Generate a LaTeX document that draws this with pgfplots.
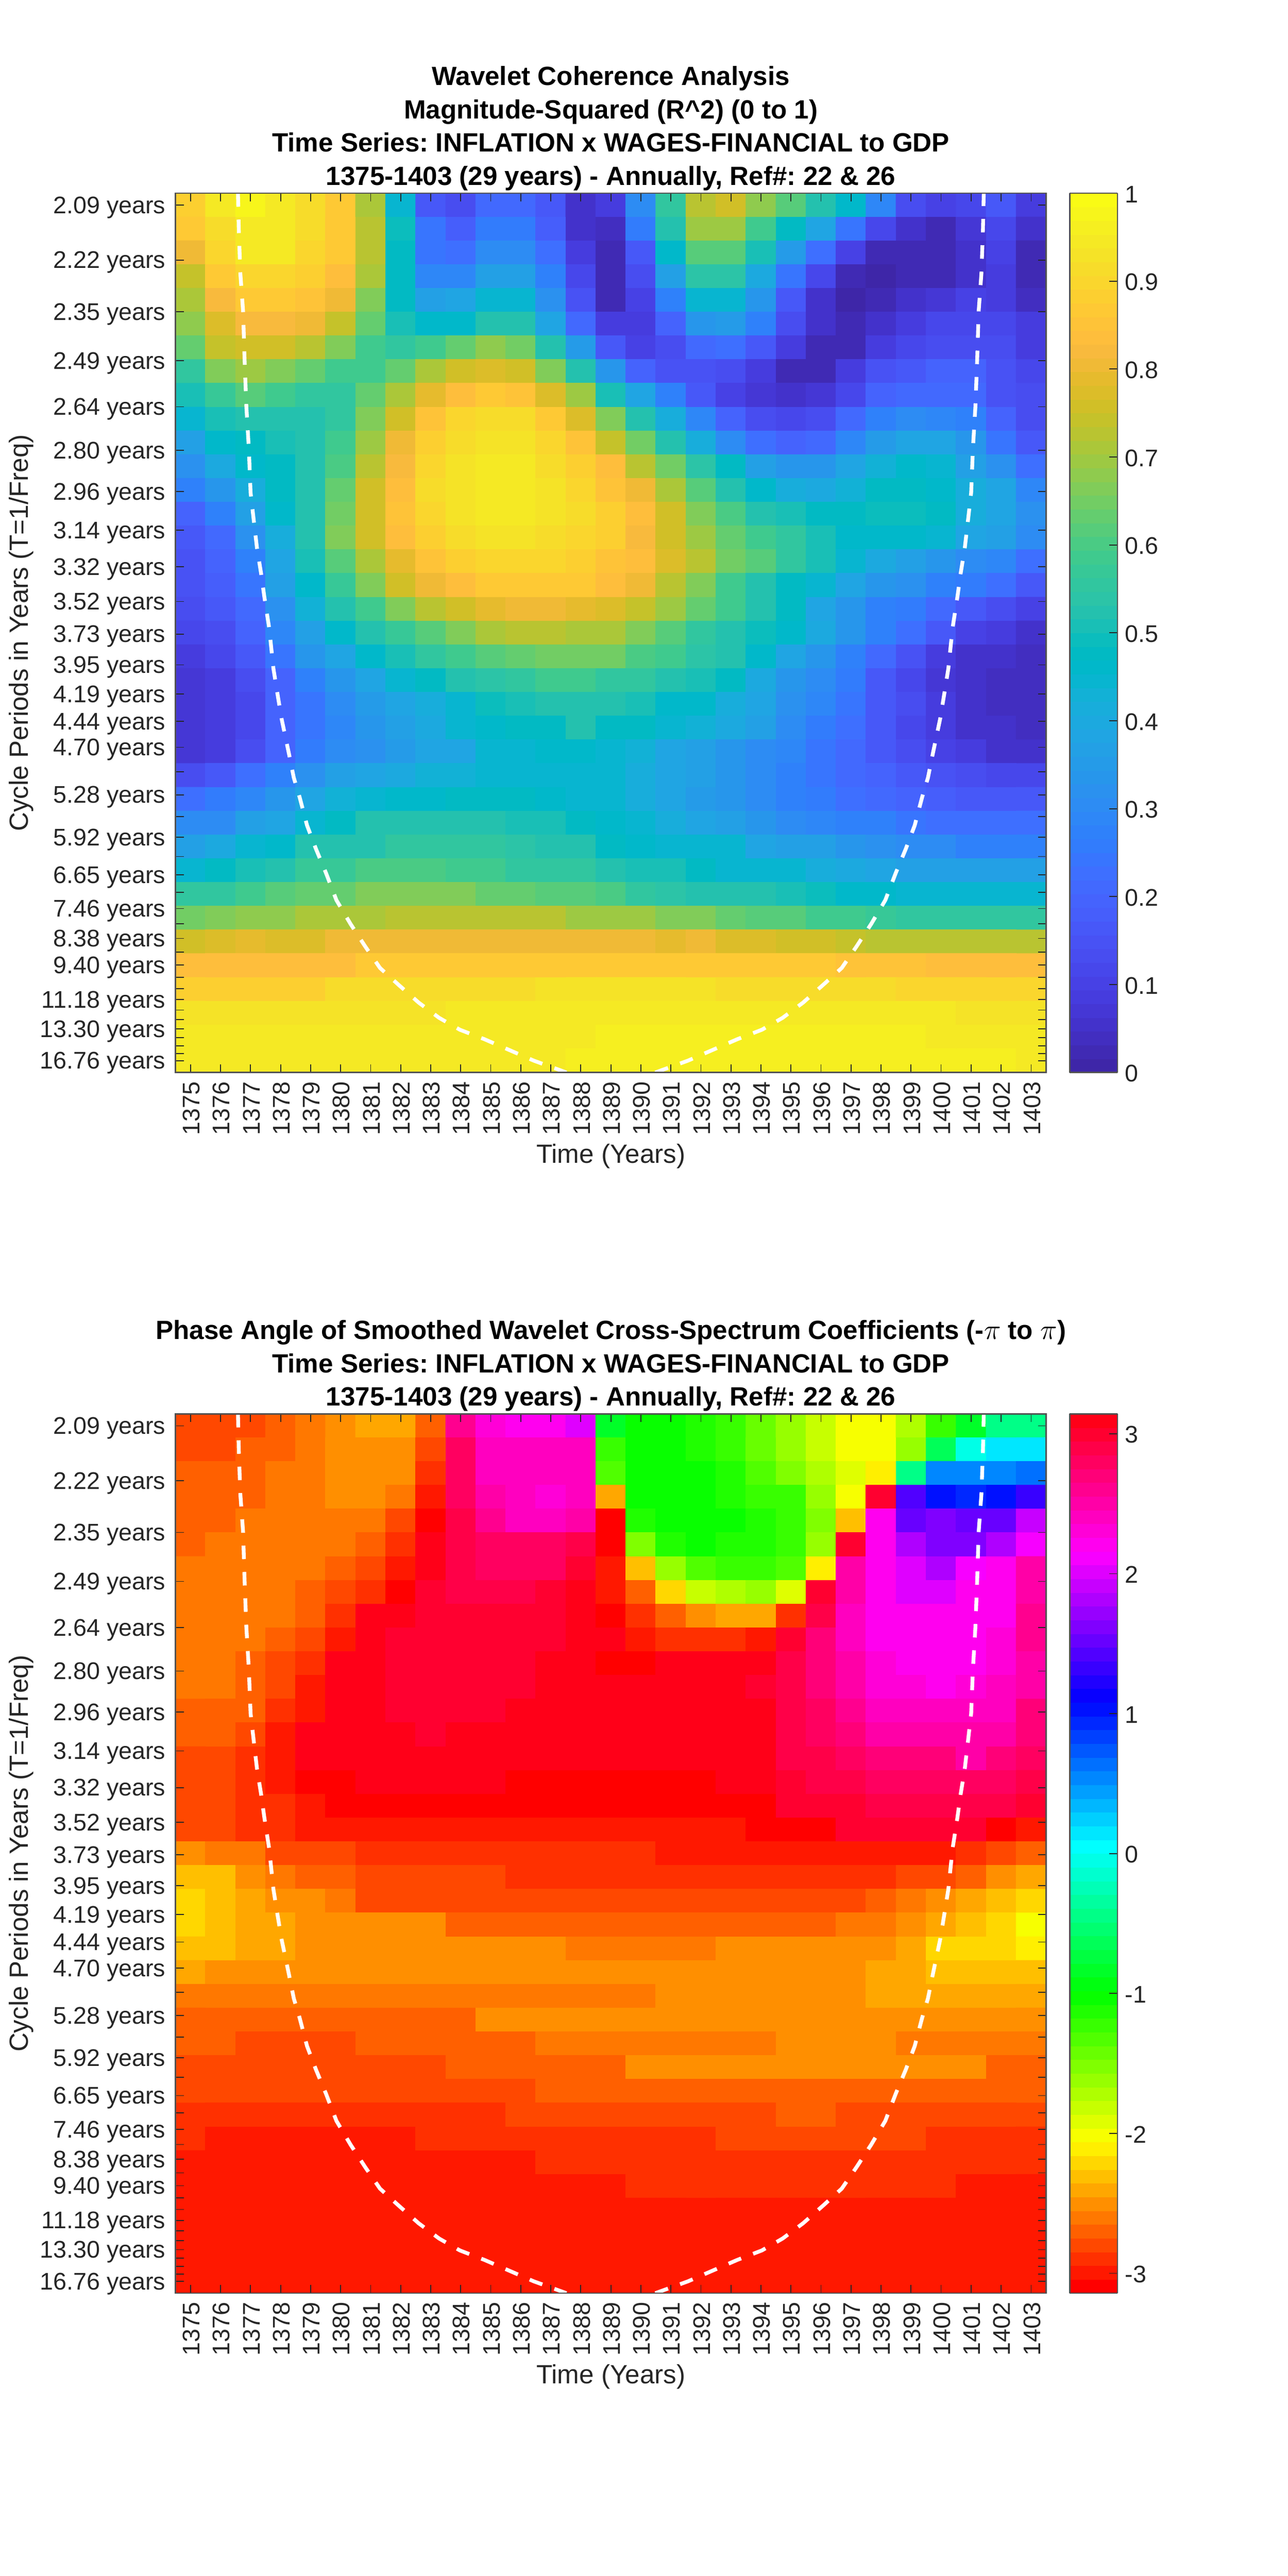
\documentclass[border=0pt]{standalone}
\usepackage{pgfplots}
\pgfplotsset{compat=1.18}
\usepackage{fontspec}
\setmainfont{Liberation Sans}
\frenchspacing
\definecolor{axc}{HTML}{262626}

\pgfplotsset{
  colormap={parula64}{
    rgb=(0.2422,0.1504,0.6603) rgb=(0.2504,0.1650,0.7076) rgb=(0.2578,0.1818,0.7511) rgb=(0.2647,0.1978,0.7952)
    rgb=(0.2706,0.2147,0.8364) rgb=(0.2751,0.2342,0.8710) rgb=(0.2783,0.2559,0.8991) rgb=(0.2803,0.2782,0.9221)
    rgb=(0.2813,0.3006,0.9414) rgb=(0.2810,0.3228,0.9579) rgb=(0.2795,0.3447,0.9717) rgb=(0.2760,0.3667,0.9829)
    rgb=(0.2699,0.3892,0.9906) rgb=(0.2602,0.4123,0.9952) rgb=(0.2440,0.4358,0.9988) rgb=(0.2206,0.4603,0.9973)
    rgb=(0.1963,0.4847,0.9892) rgb=(0.1834,0.5074,0.9798) rgb=(0.1786,0.5289,0.9682) rgb=(0.1764,0.5499,0.9520)
    rgb=(0.1687,0.5703,0.9359) rgb=(0.1540,0.5902,0.9218) rgb=(0.1460,0.6091,0.9079) rgb=(0.1380,0.6276,0.8973)
    rgb=(0.1248,0.6459,0.8883) rgb=(0.1113,0.6635,0.8763) rgb=(0.0952,0.6798,0.8598) rgb=(0.0689,0.6948,0.8394)
    rgb=(0.0297,0.7082,0.8163) rgb=(0.0036,0.7203,0.7917) rgb=(0.0067,0.7312,0.7660) rgb=(0.0433,0.7411,0.7394)
    rgb=(0.0964,0.7500,0.7120) rgb=(0.1408,0.7584,0.6842) rgb=(0.1717,0.7670,0.6554) rgb=(0.1938,0.7758,0.6251)
    rgb=(0.2161,0.7843,0.5923) rgb=(0.2470,0.7918,0.5567) rgb=(0.2906,0.7973,0.5188) rgb=(0.3406,0.8008,0.4789)
    rgb=(0.3909,0.8029,0.4354) rgb=(0.4456,0.8024,0.3909) rgb=(0.5044,0.7993,0.3480) rgb=(0.5616,0.7942,0.3045)
    rgb=(0.6174,0.7876,0.2612) rgb=(0.6720,0.7793,0.2227) rgb=(0.7242,0.7698,0.1910) rgb=(0.7738,0.7598,0.1646)
    rgb=(0.8203,0.7498,0.1535) rgb=(0.8634,0.7406,0.1596) rgb=(0.9035,0.7330,0.1774) rgb=(0.9393,0.7288,0.2100)
    rgb=(0.9728,0.7298,0.2394) rgb=(0.9956,0.7434,0.2371) rgb=(0.9970,0.7659,0.2199) rgb=(0.9952,0.7893,0.2028)
    rgb=(0.9892,0.8136,0.1885) rgb=(0.9786,0.8386,0.1766) rgb=(0.9676,0.8639,0.1643) rgb=(0.9610,0.8890,0.1537)
    rgb=(0.9597,0.9135,0.1423) rgb=(0.9628,0.9373,0.1265) rgb=(0.9691,0.9606,0.1064) rgb=(0.9769,0.9839,0.0805)
  },
  colormap={hsv64}{
    rgb=(1,0,0) rgb=(1,0.09375,0) rgb=(1,0.1875,0) rgb=(1,0.28125,0) rgb=(1,0.375,0) rgb=(1,0.46875,0) rgb=(1,0.5625,0) rgb=(1,0.65625,0)
    rgb=(1,0.75,0) rgb=(1,0.84375,0) rgb=(1,0.9375,0) rgb=(0.96875,1,0) rgb=(0.875,1,0) rgb=(0.78125,1,0) rgb=(0.6875,1,0) rgb=(0.59375,1,0)
    rgb=(0.5,1,0) rgb=(0.40625,1,0) rgb=(0.3125,1,0) rgb=(0.21875,1,0) rgb=(0.125,1,0) rgb=(0.03125,1,0) rgb=(0,1,0.0625) rgb=(0,1,0.15625)
    rgb=(0,1,0.25) rgb=(0,1,0.34375) rgb=(0,1,0.4375) rgb=(0,1,0.53125) rgb=(0,1,0.625) rgb=(0,1,0.71875) rgb=(0,1,0.8125) rgb=(0,1,0.90625)
    rgb=(0,1,1) rgb=(0,0.90625,1) rgb=(0,0.8125,1) rgb=(0,0.71875,1) rgb=(0,0.625,1) rgb=(0,0.53125,1) rgb=(0,0.4375,1) rgb=(0,0.34375,1)
    rgb=(0,0.25,1) rgb=(0,0.15625,1) rgb=(0,0.0625,1) rgb=(0.03125,0,1) rgb=(0.125,0,1) rgb=(0.21875,0,1) rgb=(0.3125,0,1) rgb=(0.40625,0,1)
    rgb=(0.5,0,1) rgb=(0.59375,0,1) rgb=(0.6875,0,1) rgb=(0.78125,0,1) rgb=(0.875,0,1) rgb=(0.96875,0,1) rgb=(1,0,0.9375) rgb=(1,0,0.84375)
    rgb=(1,0,0.75) rgb=(1,0,0.65625) rgb=(1,0,0.5625) rgb=(1,0,0.46875) rgb=(1,0,0.375) rgb=(1,0,0.28125) rgb=(1,0,0.1875) rgb=(1,0,0.09375)
  },
  wavelet/.style={
    scale only axis, width=528.3pt, height=533.5pt,
    anchor=south west,
    xmin=1374.5, xmax=1403.5, ymin=-0.5, ymax=36.5, y dir=reverse,
    axis on top, clip=true,
    axis line style={color=axc!80!white, line width=0.8pt},
    tick style={color=axc, line width=0.55pt},
    tick align=inside, major tick length=5pt,
    xtick={1375,...,1403},
    ytick={0,2.309,4.489,6.546,8.487,10.319,12.047,13.680,15.224,16.678,18.049,19.345,20.571,21.726,22.815,23.844,24.814,25.731,26.597,27.414,28.183,28.912,29.603,30.246,30.857,31.435,31.977,32.491,32.978,33.435,33.874,34.280,34.666,35.030,35.372,35.698,36},
    yticklabels={2.09 years,2.22 years,2.35 years,2.49 years,2.64 years,2.80 years,2.96 years,3.14 years,3.32 years,3.52 years,3.73 years,3.95 years,4.19 years,4.44 years,4.70 years,,5.28 years,,5.92 years,,6.65 years,,7.46 years,,8.38 years,,9.40 years,,,11.18 years,,,13.30 years,,,,16.76 years},
    tick label style={font=\fontsize{14.6}{16}\selectfont, color=axc},
    xticklabel style={rotate=90, anchor=east, xshift=-2pt, yshift=-0.5pt},
    x tick label style={/pgf/number format/1000 sep={}, /pgf/number format/assume math mode=true},
    yticklabel style={xshift=-2.5pt, yshift=-1.5pt},
    xlabel={Time (Years)},
    ylabel={Cycle Periods in Years (T=1/Freq)},
    every axis x label/.style={at={(axis description cs:0.5,-0.095)}, anchor=center, font=\fontsize{16}{18}\selectfont, color=axc},
    every axis y label/.style={at={(axis description cs:-0.177,0.5)}, rotate=90, anchor=center, font=\fontsize{16}{18}\selectfont, color=axc},
    title style={font=\bfseries\fontsize{16}{20.2}\selectfont, align=center, at={(axis description cs:0.5,1)}, anchor=south, yshift=-8pt},
    colormap access=piecewise constant,
    colorbar sampled,
    colorbar style={
      samples=65,
      at={(1.02697,0)}, anchor=south west,
      width=29pt,
      tick align=inside, major tick length=5pt,
      ytick pos=right, yticklabel pos=right,
      axis line style={color=axc!80!white, line width=0.8pt},
      yticklabel style={font=\fontsize{14.6}{16}\selectfont, color=axc, xshift=1pt, yshift=-0.6pt, /pgf/number format/assume math mode=true},
    },
  },
  heatcell/.style={matrix plot*, mesh/cols=29, point meta=explicit},
  coi/.style={white, line width=2.3pt, dash pattern=on 8.2pt off 7.8pt, forget plot},
}

\begin{document}
\begin{tikzpicture}
\path[use as bounding box] (0,0) rectangle (781.25pt,1563pt);

\begin{axis}[wavelet, at={(106.5pt,912.25pt)},
  title={Wavelet Coherence Analysis\\Magnitude-Squared (R\textasciicircum 2) (0 to 1)\\Time Series: INFLATION x WAGES-FINANCIAL to GDP\\1375-1403 (29 years) - Annually, Ref\#: 22 \& 26},
  colormap name=parula64, point meta min=0, point meta max=1,
  colorbar style={ytick={0,0.1,...,1}, yticklabels={0,0.1,0.2,0.3,0.4,0.5,0.6,0.7,0.8,0.9,1}},
]
\addplot[heatcell] table[header=false, row sep=\\, x expr={mod(\coordindex,29)+1375}, y expr={floor((\coordindex+0.5)/29)}, meta index=0] {
0.89\\0.94\\0.97\\0.95\\0.92\\0.86\\0.71\\0.45\\0.17\\0.13\\0.21\\0.21\\0.16\\0.05\\0.08\\0.30\\0.56\\0.73\\0.76\\0.68\\0.62\\0.53\\0.46\\0.29\\0.14\\0.10\\0.12\\0.17\\0.08\\
0.87\\0.92\\0.95\\0.94\\0.92\\0.87\\0.73\\0.49\\0.24\\0.18\\0.26\\0.26\\0.18\\0.05\\0.04\\0.25\\0.52\\0.69\\0.69\\0.59\\0.48\\0.38\\0.24\\0.12\\0.05\\0.03\\0.07\\0.12\\0.05\\
0.80\\0.90\\0.95\\0.94\\0.90\\0.86\\0.73\\0.48\\0.24\\0.22\\0.31\\0.31\\0.22\\0.09\\0.03\\0.17\\0.46\\0.62\\0.62\\0.50\\0.35\\0.23\\0.10\\0.03\\0.02\\0.03\\0.06\\0.10\\0.03\\
0.74\\0.86\\0.90\\0.90\\0.89\\0.84\\0.71\\0.47\\0.29\\0.29\\0.37\\0.37\\0.28\\0.12\\0.03\\0.13\\0.36\\0.54\\0.54\\0.40\\0.24\\0.11\\0.03\\0.01\\0.02\\0.03\\0.06\\0.08\\0.03\\
0.71\\0.82\\0.87\\0.87\\0.85\\0.80\\0.67\\0.47\\0.36\\0.38\\0.44\\0.44\\0.32\\0.15\\0.03\\0.10\\0.27\\0.45\\0.45\\0.33\\0.16\\0.06\\0.01\\0.02\\0.06\\0.07\\0.10\\0.09\\0.04\\
0.68\\0.77\\0.82\\0.82\\0.80\\0.74\\0.63\\0.51\\0.46\\0.46\\0.52\\0.52\\0.38\\0.21\\0.08\\0.08\\0.19\\0.33\\0.35\\0.27\\0.14\\0.06\\0.02\\0.05\\0.09\\0.11\\0.11\\0.11\\0.08\\
0.63\\0.74\\0.76\\0.76\\0.72\\0.67\\0.59\\0.56\\0.59\\0.63\\0.68\\0.65\\0.53\\0.35\\0.16\\0.10\\0.13\\0.21\\0.22\\0.17\\0.08\\0.02\\0.03\\0.09\\0.12\\0.14\\0.14\\0.13\\0.09\\
0.56\\0.67\\0.69\\0.67\\0.64\\0.59\\0.59\\0.64\\0.71\\0.76\\0.78\\0.75\\0.66\\0.53\\0.33\\0.20\\0.15\\0.15\\0.13\\0.08\\0.03\\0.03\\0.09\\0.15\\0.17\\0.19\\0.19\\0.15\\0.12\\
0.50\\0.57\\0.62\\0.58\\0.55\\0.56\\0.63\\0.71\\0.79\\0.84\\0.87\\0.85\\0.78\\0.69\\0.51\\0.38\\0.28\\0.17\\0.10\\0.07\\0.05\\0.07\\0.12\\0.20\\0.21\\0.21\\0.21\\0.15\\0.13\\
0.45\\0.50\\0.52\\0.52\\0.52\\0.56\\0.67\\0.76\\0.85\\0.90\\0.91\\0.91\\0.86\\0.78\\0.67\\0.53\\0.41\\0.29\\0.20\\0.13\\0.11\\0.14\\0.21\\0.27\\0.30\\0.29\\0.28\\0.19\\0.14\\
0.36\\0.46\\0.48\\0.50\\0.52\\0.58\\0.70\\0.80\\0.89\\0.92\\0.93\\0.93\\0.90\\0.85\\0.74\\0.65\\0.53\\0.42\\0.30\\0.22\\0.20\\0.21\\0.29\\0.35\\0.38\\0.38\\0.33\\0.24\\0.17\\
0.32\\0.40\\0.46\\0.47\\0.52\\0.60\\0.73\\0.82\\0.90\\0.93\\0.94\\0.94\\0.92\\0.89\\0.83\\0.73\\0.65\\0.54\\0.47\\0.36\\0.33\\0.33\\0.39\\0.43\\0.46\\0.44\\0.37\\0.32\\0.22\\
0.28\\0.34\\0.42\\0.47\\0.53\\0.63\\0.75\\0.84\\0.91\\0.93\\0.94\\0.94\\0.93\\0.90\\0.85\\0.80\\0.71\\0.62\\0.52\\0.46\\0.41\\0.40\\0.43\\0.47\\0.47\\0.46\\0.42\\0.38\\0.29\\
0.20\\0.28\\0.37\\0.46\\0.53\\0.65\\0.76\\0.85\\0.90\\0.93\\0.94\\0.94\\0.93\\0.91\\0.89\\0.83\\0.76\\0.67\\0.60\\0.53\\0.50\\0.48\\0.47\\0.49\\0.49\\0.47\\0.42\\0.38\\0.32\\
0.16\\0.21\\0.32\\0.41\\0.53\\0.66\\0.76\\0.84\\0.89\\0.92\\0.93\\0.93\\0.92\\0.90\\0.88\\0.82\\0.75\\0.70\\0.63\\0.58\\0.55\\0.50\\0.46\\0.46\\0.46\\0.44\\0.38\\0.36\\0.30\\
0.15\\0.20\\0.28\\0.39\\0.50\\0.61\\0.71\\0.79\\0.85\\0.89\\0.90\\0.90\\0.90\\0.89\\0.85\\0.83\\0.77\\0.73\\0.65\\0.62\\0.55\\0.51\\0.45\\0.40\\0.36\\0.34\\0.31\\0.29\\0.22\\
0.15\\0.18\\0.24\\0.36\\0.46\\0.57\\0.67\\0.75\\0.81\\0.84\\0.87\\0.87\\0.87\\0.87\\0.84\\0.80\\0.72\\0.66\\0.58\\0.52\\0.47\\0.44\\0.38\\0.34\\0.32\\0.28\\0.25\\0.23\\0.17\\
0.14\\0.16\\0.21\\0.32\\0.43\\0.53\\0.58\\0.66\\0.73\\0.75\\0.79\\0.80\\0.80\\0.79\\0.77\\0.74\\0.69\\0.63\\0.58\\0.52\\0.47\\0.38\\0.33\\0.27\\0.25\\0.21\\0.16\\0.13\\0.10\\
0.12\\0.14\\0.20\\0.29\\0.37\\0.46\\0.52\\0.57\\0.61\\0.67\\0.71\\0.73\\0.73\\0.71\\0.71\\0.66\\0.61\\0.56\\0.52\\0.49\\0.46\\0.40\\0.34\\0.27\\0.22\\0.17\\0.10\\0.08\\0.06\\
0.09\\0.11\\0.16\\0.24\\0.33\\0.39\\0.46\\0.51\\0.55\\0.59\\0.62\\0.63\\0.65\\0.65\\0.65\\0.60\\0.58\\0.54\\0.52\\0.46\\0.38\\0.33\\0.28\\0.21\\0.15\\0.09\\0.06\\0.05\\0.04\\
0.07\\0.08\\0.14\\0.20\\0.27\\0.34\\0.38\\0.44\\0.47\\0.52\\0.54\\0.56\\0.58\\0.58\\0.56\\0.56\\0.53\\0.50\\0.47\\0.40\\0.34\\0.30\\0.25\\0.17\\0.12\\0.07\\0.05\\0.04\\0.035\\
0.07\\0.08\\0.12\\0.20\\0.24\\0.31\\0.35\\0.39\\0.41\\0.45\\0.49\\0.51\\0.52\\0.52\\0.52\\0.51\\0.46\\0.46\\0.41\\0.38\\0.32\\0.29\\0.24\\0.17\\0.13\\0.08\\0.05\\0.04\\0.035\\
0.07\\0.08\\0.12\\0.19\\0.24\\0.29\\0.33\\0.37\\0.40\\0.44\\0.46\\0.47\\0.48\\0.52\\0.48\\0.47\\0.45\\0.43\\0.40\\0.36\\0.31\\0.26\\0.22\\0.17\\0.12\\0.09\\0.06\\0.05\\0.04\\
0.07\\0.09\\0.14\\0.19\\0.25\\0.30\\0.32\\0.35\\0.38\\0.39\\0.44\\0.45\\0.46\\0.46\\0.45\\0.43\\0.39\\0.36\\0.33\\0.31\\0.29\\0.24\\0.21\\0.16\\0.13\\0.10\\0.08\\0.06\\0.05\\
0.14\\0.17\\0.22\\0.27\\0.32\\0.36\\0.38\\0.40\\0.43\\0.43\\0.44\\0.45\\0.45\\0.45\\0.44\\0.41\\0.39\\0.36\\0.33\\0.30\\0.28\\0.24\\0.21\\0.19\\0.17\\0.15\\0.13\\0.12\\0.12\\
0.22\\0.25\\0.29\\0.34\\0.38\\0.43\\0.44\\0.46\\0.46\\0.47\\0.47\\0.47\\0.46\\0.45\\0.44\\0.41\\0.38\\0.35\\0.33\\0.30\\0.28\\0.25\\0.23\\0.21\\0.19\\0.18\\0.17\\0.17\\0.17\\
0.30\\0.31\\0.36\\0.39\\0.45\\0.48\\0.52\\0.52\\0.53\\0.53\\0.53\\0.51\\0.51\\0.47\\0.46\\0.44\\0.42\\0.39\\0.36\\0.33\\0.31\\0.29\\0.28\\0.27\\0.24\\0.23\\0.23\\0.23\\0.23\\
0.36\\0.40\\0.45\\0.46\\0.52\\0.53\\0.53\\0.55\\0.56\\0.56\\0.56\\0.54\\0.52\\0.52\\0.48\\0.46\\0.45\\0.44\\0.44\\0.38\\0.36\\0.36\\0.34\\0.32\\0.31\\0.30\\0.28\\0.28\\0.28\\
0.45\\0.47\\0.51\\0.53\\0.57\\0.57\\0.60\\0.60\\0.60\\0.58\\0.58\\0.56\\0.56\\0.56\\0.53\\0.51\\0.50\\0.47\\0.45\\0.45\\0.44\\0.41\\0.40\\0.38\\0.37\\0.37\\0.37\\0.36\\0.36\\
0.55\\0.56\\0.59\\0.61\\0.63\\0.63\\0.66\\0.66\\0.66\\0.66\\0.64\\0.64\\0.62\\0.62\\0.60\\0.56\\0.54\\0.53\\0.52\\0.52\\0.50\\0.49\\0.46\\0.46\\0.45\\0.45\\0.45\\0.45\\0.45\\
0.65\\0.66\\0.68\\0.68\\0.71\\0.71\\0.71\\0.73\\0.72\\0.72\\0.72\\0.72\\0.72\\0.70\\0.70\\0.69\\0.67\\0.66\\0.64\\0.62\\0.61\\0.59\\0.58\\0.57\\0.56\\0.56\\0.56\\0.56\\0.56\\
0.76\\0.77\\0.79\\0.78\\0.78\\0.81\\0.81\\0.81\\0.81\\0.81\\0.81\\0.81\\0.81\\0.81\\0.81\\0.80\\0.79\\0.80\\0.78\\0.78\\0.76\\0.76\\0.74\\0.72\\0.72\\0.72\\0.72\\0.72\\0.72\\
0.84\\0.84\\0.84\\0.84\\0.84\\0.84\\0.87\\0.87\\0.87\\0.87\\0.87\\0.87\\0.87\\0.87\\0.87\\0.87\\0.87\\0.87\\0.86\\0.86\\0.86\\0.86\\0.85\\0.85\\0.85\\0.84\\0.84\\0.84\\0.84\\
0.885\\0.885\\0.885\\0.885\\0.885\\0.91\\0.91\\0.91\\0.91\\0.91\\0.91\\0.91\\0.93\\0.93\\0.93\\0.93\\0.93\\0.93\\0.91\\0.91\\0.91\\0.91\\0.91\\0.91\\0.90\\0.90\\0.90\\0.90\\0.90\\
0.93\\0.93\\0.93\\0.93\\0.93\\0.93\\0.93\\0.93\\0.93\\0.945\\0.945\\0.945\\0.945\\0.945\\0.945\\0.945\\0.945\\0.945\\0.945\\0.945\\0.945\\0.945\\0.945\\0.945\\0.945\\0.945\\0.93\\0.93\\0.93\\
0.945\\0.945\\0.945\\0.945\\0.945\\0.945\\0.945\\0.945\\0.945\\0.945\\0.945\\0.945\\0.945\\0.945\\0.96\\0.96\\0.96\\0.96\\0.96\\0.96\\0.96\\0.96\\0.96\\0.96\\0.96\\0.945\\0.945\\0.945\\0.945\\
0.945\\0.945\\0.945\\0.945\\0.945\\0.945\\0.945\\0.945\\0.945\\0.945\\0.945\\0.945\\0.945\\0.96\\0.96\\0.96\\0.96\\0.96\\0.96\\0.96\\0.96\\0.96\\0.96\\0.96\\0.96\\0.96\\0.96\\0.96\\0.945\\
};
\addplot[coi] coordinates {(1376.58,-0.5)(1376.61,1.15)(1376.66,2.9)(1376.75,4.46)(1376.8,6.5)(1376.86,8.5)(1376.94,10.2)(1377.0,12.1)(1377.1,13.2)(1377.21,14.4)(1377.35,15.5)(1377.46,16.5)(1377.62,17.8)(1377.76,19.5)(1377.9,20.6)(1378.03,21.6)(1378.28,23.1)(1378.44,24.1)(1378.63,24.9)(1378.88,26.1)(1379.18,27.1)(1379.51,28.1)(1379.86,29.25)(1380.33,30.25)(1380.82,31.2)(1381.31,32.1)(1381.92,32.8)(1382.6,33.56)(1383.28,34.2)(1383.97,34.7)(1384.79,35.1)(1385.61,35.55)(1386.43,36)(1387.52,36.5)};
\addplot[coi] coordinates {(1390.48,36.5)(1391.57,36)(1392.39,35.55)(1393.21,35.1)(1394.03,34.7)(1394.72,34.2)(1395.4,33.56)(1396.08,32.8)(1396.69,32.1)(1397.18,31.2)(1397.67,30.25)(1398.14,29.25)(1398.49,28.1)(1398.82,27.1)(1399.12,26.1)(1399.37,24.9)(1399.56,24.1)(1399.72,23.1)(1399.97,21.6)(1400.1,20.6)(1400.24,19.5)(1400.38,17.8)(1400.54,16.5)(1400.65,15.5)(1400.79,14.4)(1400.9,13.2)(1401.0,12.1)(1401.06,10.2)(1401.14,8.5)(1401.2,6.5)(1401.25,4.46)(1401.34,2.9)(1401.39,1.15)(1401.42,-0.5)};
\end{axis}

\begin{axis}[wavelet, at={(106.5pt,171.6pt)},
  title={Phase Angle of Smoothed Wavelet Cross-Spectrum Coefficients (-$\pi$ to $\pi$)\\Time Series: INFLATION x WAGES-FINANCIAL to GDP\\1375-1403 (29 years) - Annually, Ref\#: 22 \& 26},
  colormap name=hsv64, point meta min=-3.14159, point meta max=3.14159,
  colorbar style={ytick={-3,-2,-1,0,1,2,3}},
]
\addplot[heatcell] table[header=false, row sep=\\, x expr={mod(\coordindex,29)+1375}, y expr={floor((\coordindex+0.5)/29)}, meta index=0] {
-2.8\\-2.8\\-2.8\\-2.7\\-2.6\\-2.5\\-2.4\\-2.4\\-2.7\\2.6\\2.3\\2.2\\2.2\\2.0\\-0.85\\-1.05\\-1.05\\-1.15\\-1.25\\-1.4\\-1.65\\-1.8\\-2.0\\-2.0\\-1.7\\-1.2\\-0.85\\-0.4\\-0.4\\
-2.8\\-2.8\\-2.7\\-2.7\\-2.6\\-2.5\\-2.5\\-2.5\\-2.8\\2.75\\2.4\\2.4\\2.4\\2.4\\-1.2\\-1.05\\-1.05\\-1.15\\-1.2\\-1.4\\-1.6\\-1.85\\-2.05\\-2.05\\-1.6\\-0.6\\-0.05\\0.1\\0.1\\
-2.7\\-2.7\\-2.7\\-2.6\\-2.6\\-2.5\\-2.5\\-2.5\\-2.9\\2.75\\2.4\\2.4\\2.4\\2.4\\-1.35\\-1.05\\-1.05\\-1.05\\-1.1\\-1.3\\-1.5\\-1.75\\-1.95\\-2.15\\-0.45\\0.55\\0.55\\0.55\\0.6\\
-2.7\\-2.7\\-2.7\\-2.6\\-2.6\\-2.5\\-2.5\\-2.6\\-3.0\\2.8\\2.5\\2.45\\2.3\\2.45\\-2.45\\-1.05\\-1.05\\-1.05\\-1.15\\-1.2\\-1.25\\-1.6\\-2.05\\2.95\\1.45\\1.05\\0.95\\1.0\\1.3\\
-2.7\\-2.7\\-2.6\\-2.6\\-2.6\\-2.6\\-2.6\\-2.8\\-3.1\\2.9\\2.6\\2.4\\2.4\\2.55\\-3.1\\-1.15\\-1.05\\-1.05\\-1.05\\-1.1\\-1.25\\-1.55\\-2.3\\2.2\\1.5\\1.6\\1.5\\1.55\\1.9\\
-2.7\\-2.6\\-2.6\\-2.6\\-2.6\\-2.6\\-2.7\\-2.9\\3.05\\2.9\\2.75\\2.75\\2.75\\2.85\\-3.1\\-1.55\\-1.15\\-1.05\\-1.1\\-1.1\\-1.2\\-1.6\\2.95\\2.2\\1.8\\1.65\\1.65\\1.85\\2.15\\
-2.6\\-2.6\\-2.6\\-2.6\\-2.6\\-2.7\\-2.8\\-3.0\\3.05\\2.9\\2.75\\2.75\\2.75\\3.0\\-3.0\\-2.35\\-1.65\\-1.3\\-1.2\\-1.2\\-1.3\\-2.1\\2.55\\2.2\\2.0\\1.8\\2.1\\2.2\\2.5\\
-2.6\\-2.6\\-2.6\\-2.6\\-2.7\\-2.8\\-2.9\\-3.1\\3.0\\2.9\\2.9\\2.9\\2.95\\3.05\\-3.0\\-2.7\\-2.2\\-1.8\\-1.7\\-1.6\\-1.9\\3.0\\2.5\\2.2\\2.05\\2.0\\2.2\\2.2\\2.55\\
-2.6\\-2.6\\-2.6\\-2.6\\-2.7\\-2.9\\3.1\\3.05\\3.0\\3.0\\3.0\\3.0\\3.0\\3.05\\-3.1\\-2.9\\-2.7\\-2.5\\-2.4\\-2.4\\-2.9\\2.9\\2.4\\2.2\\2.2\\2.2\\2.2\\2.2\\2.6\\
-2.6\\-2.6\\-2.6\\-2.7\\-2.8\\-3.0\\3.1\\3.0\\3.0\\3.0\\3.0\\3.0\\3.0\\3.05\\3.1\\-3.0\\-2.9\\-2.9\\-2.9\\-3.0\\3.0\\2.7\\2.4\\2.2\\2.2\\2.2\\2.2\\2.3\\2.6\\
-2.6\\-2.6\\-2.7\\-2.8\\-2.9\\3.1\\3.05\\3.0\\3.0\\3.0\\3.0\\3.0\\3.05\\3.05\\-3.1\\-3.1\\3.1\\3.1\\3.1\\3.05\\2.9\\2.7\\2.5\\2.3\\2.2\\2.2\\2.2\\2.3\\2.55\\
-2.6\\-2.6\\-2.7\\-2.8\\-3.0\\3.1\\3.05\\3.0\\3.0\\3.0\\3.0\\3.0\\3.05\\3.05\\3.05\\3.05\\3.1\\3.05\\3.05\\3.0\\2.9\\2.7\\2.5\\2.35\\2.3\\2.2\\2.3\\2.4\\2.55\\
-2.7\\-2.7\\-2.7\\-2.9\\-3.0\\3.1\\3.05\\3.0\\3.0\\3.0\\3.0\\3.05\\3.05\\3.05\\3.05\\3.05\\3.05\\3.05\\3.05\\3.05\\2.85\\2.8\\2.6\\2.45\\2.4\\2.4\\2.4\\2.45\\2.7\\
-2.7\\-2.7\\-2.8\\-2.95\\3.1\\3.05\\3.05\\3.05\\3.0\\3.05\\3.05\\3.05\\3.05\\3.05\\3.05\\3.05\\3.05\\3.05\\3.05\\3.05\\2.85\\2.8\\2.7\\2.55\\2.5\\2.5\\2.5\\2.55\\2.7\\
-2.8\\-2.8\\-2.9\\-3.0\\3.1\\3.05\\3.05\\3.05\\3.05\\3.05\\3.05\\3.05\\3.05\\3.05\\3.1\\3.1\\3.1\\3.05\\3.05\\3.05\\2.9\\2.85\\2.8\\2.7\\2.7\\2.7\\2.55\\2.7\\2.75\\
-2.8\\-2.8\\-2.9\\-3.0\\-3.1\\-3.1\\3.1\\3.1\\3.1\\3.1\\3.1\\-3.1\\-3.1\\-3.1\\-3.1\\-3.1\\-3.1\\-3.1\\3.05\\3.05\\2.95\\2.9\\2.85\\2.75\\2.75\\2.75\\2.75\\2.8\\2.85\\
-2.8\\-2.8\\-2.9\\-2.9\\-3.0\\-3.1\\-3.1\\-3.1\\-3.1\\-3.1\\-3.1\\-3.1\\-3.1\\-3.1\\-3.1\\-3.1\\-3.1\\-3.1\\-3.1\\-3.1\\3.0\\3.0\\3.0\\2.9\\2.9\\2.9\\2.9\\2.9\\3.0\\
-2.75\\-2.75\\-2.85\\-2.85\\-2.95\\-2.95\\-2.95\\-2.95\\-2.95\\-2.95\\-2.95\\-2.95\\-2.95\\-2.95\\-2.95\\-2.95\\-2.95\\-2.95\\-2.95\\-3.1\\-3.1\\-3.1\\3.0\\3.0\\3.0\\3.0\\3.0\\-3.1\\-2.95\\
-2.5\\-2.65\\-2.65\\-2.75\\-2.8\\-2.8\\-2.85\\-2.85\\-2.85\\-2.85\\-2.85\\-2.85\\-2.85\\-2.85\\-2.85\\-2.85\\-2.95\\-2.95\\-2.95\\-2.95\\-2.95\\-2.95\\-2.95\\-2.95\\-2.95\\-2.95\\-2.85\\-2.8\\-2.7\\
-2.3\\-2.35\\-2.5\\-2.65\\-2.7\\-2.7\\-2.8\\-2.8\\-2.8\\-2.8\\-2.8\\-2.9\\-2.9\\-2.9\\-2.9\\-2.9\\-2.9\\-2.9\\-2.9\\-2.9\\-2.9\\-2.9\\-2.9\\-2.9\\-2.8\\-2.8\\-2.7\\-2.5\\-2.4\\
-2.2\\-2.3\\-2.4\\-2.5\\-2.5\\-2.65\\-2.75\\-2.75\\-2.75\\-2.8\\-2.8\\-2.8\\-2.8\\-2.8\\-2.8\\-2.8\\-2.8\\-2.8\\-2.8\\-2.8\\-2.8\\-2.8\\-2.8\\-2.7\\-2.6\\-2.5\\-2.45\\-2.35\\-2.2\\
-2.2\\-2.3\\-2.4\\-2.4\\-2.5\\-2.5\\-2.55\\-2.55\\-2.55\\-2.7\\-2.7\\-2.7\\-2.7\\-2.7\\-2.7\\-2.7\\-2.7\\-2.7\\-2.7\\-2.7\\-2.7\\-2.7\\-2.6\\-2.6\\-2.55\\-2.4\\-2.3\\-2.2\\-2.05\\
-2.3\\-2.3\\-2.4\\-2.4\\-2.5\\-2.5\\-2.55\\-2.55\\-2.55\\-2.55\\-2.55\\-2.55\\-2.55\\-2.65\\-2.65\\-2.65\\-2.65\\-2.65\\-2.55\\-2.55\\-2.55\\-2.55\\-2.5\\-2.5\\-2.45\\-2.25\\-2.2\\-2.2\\-2.1\\
-2.4\\-2.5\\-2.5\\-2.5\\-2.55\\-2.55\\-2.55\\-2.55\\-2.55\\-2.55\\-2.55\\-2.55\\-2.55\\-2.55\\-2.55\\-2.55\\-2.55\\-2.55\\-2.55\\-2.5\\-2.5\\-2.5\\-2.5\\-2.4\\-2.4\\-2.35\\-2.35\\-2.35\\-2.35\\
-2.6\\-2.6\\-2.6\\-2.6\\-2.6\\-2.6\\-2.6\\-2.6\\-2.6\\-2.6\\-2.6\\-2.6\\-2.6\\-2.6\\-2.6\\-2.6\\-2.5\\-2.5\\-2.5\\-2.5\\-2.5\\-2.5\\-2.5\\-2.4\\-2.4\\-2.4\\-2.4\\-2.4\\-2.4\\
-2.7\\-2.7\\-2.7\\-2.7\\-2.7\\-2.7\\-2.7\\-2.7\\-2.7\\-2.7\\-2.55\\-2.55\\-2.55\\-2.55\\-2.55\\-2.55\\-2.55\\-2.5\\-2.5\\-2.5\\-2.5\\-2.5\\-2.5\\-2.5\\-2.5\\-2.5\\-2.5\\-2.5\\-2.5\\
-2.7\\-2.7\\-2.75\\-2.75\\-2.75\\-2.75\\-2.7\\-2.7\\-2.7\\-2.7\\-2.7\\-2.7\\-2.6\\-2.6\\-2.6\\-2.6\\-2.6\\-2.6\\-2.6\\-2.6\\-2.5\\-2.5\\-2.5\\-2.5\\-2.6\\-2.6\\-2.6\\-2.6\\-2.6\\
-2.75\\-2.75\\-2.75\\-2.75\\-2.75\\-2.75\\-2.75\\-2.75\\-2.75\\-2.7\\-2.7\\-2.7\\-2.7\\-2.7\\-2.7\\-2.55\\-2.55\\-2.55\\-2.55\\-2.55\\-2.55\\-2.55\\-2.55\\-2.55\\-2.55\\-2.55\\-2.55\\-2.7\\-2.7\\
-2.75\\-2.75\\-2.75\\-2.75\\-2.75\\-2.75\\-2.75\\-2.75\\-2.75\\-2.75\\-2.75\\-2.75\\-2.7\\-2.7\\-2.7\\-2.7\\-2.7\\-2.7\\-2.7\\-2.7\\-2.7\\-2.7\\-2.7\\-2.7\\-2.7\\-2.7\\-2.7\\-2.7\\-2.7\\
-2.85\\-2.85\\-2.85\\-2.85\\-2.85\\-2.85\\-2.85\\-2.85\\-2.85\\-2.85\\-2.85\\-2.75\\-2.75\\-2.75\\-2.75\\-2.75\\-2.75\\-2.75\\-2.75\\-2.75\\-2.7\\-2.7\\-2.8\\-2.8\\-2.8\\-2.8\\-2.8\\-2.8\\-2.8\\
-2.85\\-2.95\\-2.95\\-2.95\\-2.95\\-2.95\\-2.95\\-2.95\\-2.85\\-2.85\\-2.85\\-2.85\\-2.85\\-2.85\\-2.85\\-2.85\\-2.85\\-2.85\\-2.8\\-2.8\\-2.8\\-2.8\\-2.8\\-2.8\\-2.8\\-2.9\\-2.9\\-2.9\\-2.9\\
-2.95\\-2.95\\-2.95\\-2.95\\-2.95\\-2.95\\-2.95\\-2.95\\-2.95\\-2.95\\-2.95\\-2.95\\-2.85\\-2.85\\-2.85\\-2.85\\-2.85\\-2.85\\-2.85\\-2.85\\-2.85\\-2.85\\-2.85\\-2.85\\-2.85\\-2.85\\-2.85\\-2.85\\-2.85\\
-2.95\\-2.95\\-2.95\\-2.95\\-2.95\\-2.95\\-2.95\\-2.95\\-2.95\\-2.95\\-2.95\\-2.95\\-2.95\\-2.95\\-2.95\\-2.85\\-2.85\\-2.85\\-2.85\\-2.85\\-2.85\\-2.85\\-2.85\\-2.85\\-2.85\\-2.85\\-2.95\\-2.95\\-2.95\\
-2.95\\-2.95\\-2.95\\-2.95\\-2.95\\-2.95\\-2.95\\-2.95\\-2.95\\-2.95\\-2.95\\-2.95\\-2.95\\-2.95\\-2.95\\-2.95\\-2.95\\-2.95\\-2.95\\-2.95\\-2.95\\-2.95\\-2.95\\-2.95\\-2.95\\-2.95\\-2.95\\-2.95\\-2.95\\
-2.95\\-2.95\\-2.95\\-2.95\\-2.95\\-2.95\\-2.95\\-2.95\\-2.95\\-2.95\\-2.95\\-2.95\\-2.95\\-2.95\\-2.95\\-2.95\\-2.95\\-2.95\\-2.95\\-2.95\\-2.95\\-2.95\\-2.95\\-2.95\\-2.95\\-2.95\\-2.95\\-2.95\\-2.95\\
-2.95\\-2.95\\-2.95\\-2.95\\-2.95\\-2.95\\-2.95\\-2.95\\-2.95\\-2.95\\-2.95\\-2.95\\-2.95\\-2.95\\-2.95\\-2.95\\-2.95\\-2.95\\-2.95\\-2.95\\-2.95\\-2.95\\-2.95\\-2.95\\-2.95\\-2.95\\-2.95\\-2.95\\-2.95\\
-2.95\\-2.95\\-2.95\\-2.95\\-2.95\\-2.95\\-2.95\\-2.95\\-2.95\\-2.95\\-2.95\\-2.95\\-2.95\\-2.95\\-2.95\\-2.95\\-2.95\\-2.95\\-2.95\\-2.95\\-2.95\\-2.95\\-2.95\\-2.95\\-2.95\\-2.95\\-2.95\\-2.95\\-2.95\\
};
\addplot[coi] coordinates {(1376.58,-0.5)(1376.61,1.15)(1376.66,2.9)(1376.75,4.46)(1376.8,6.5)(1376.86,8.5)(1376.94,10.2)(1377.0,12.1)(1377.1,13.2)(1377.21,14.4)(1377.35,15.5)(1377.46,16.5)(1377.62,17.8)(1377.76,19.5)(1377.9,20.6)(1378.03,21.6)(1378.28,23.1)(1378.44,24.1)(1378.63,24.9)(1378.88,26.1)(1379.18,27.1)(1379.51,28.1)(1379.86,29.25)(1380.33,30.25)(1380.82,31.2)(1381.31,32.1)(1381.92,32.8)(1382.6,33.56)(1383.28,34.2)(1383.97,34.7)(1384.79,35.1)(1385.61,35.55)(1386.43,36)(1387.52,36.5)};
\addplot[coi] coordinates {(1390.48,36.5)(1391.57,36)(1392.39,35.55)(1393.21,35.1)(1394.03,34.7)(1394.72,34.2)(1395.4,33.56)(1396.08,32.8)(1396.69,32.1)(1397.18,31.2)(1397.67,30.25)(1398.14,29.25)(1398.49,28.1)(1398.82,27.1)(1399.12,26.1)(1399.37,24.9)(1399.56,24.1)(1399.72,23.1)(1399.97,21.6)(1400.1,20.6)(1400.24,19.5)(1400.38,17.8)(1400.54,16.5)(1400.65,15.5)(1400.79,14.4)(1400.9,13.2)(1401.0,12.1)(1401.06,10.2)(1401.14,8.5)(1401.2,6.5)(1401.25,4.46)(1401.34,2.9)(1401.39,1.15)(1401.42,-0.5)};
\end{axis}
\end{tikzpicture}
\end{document}
